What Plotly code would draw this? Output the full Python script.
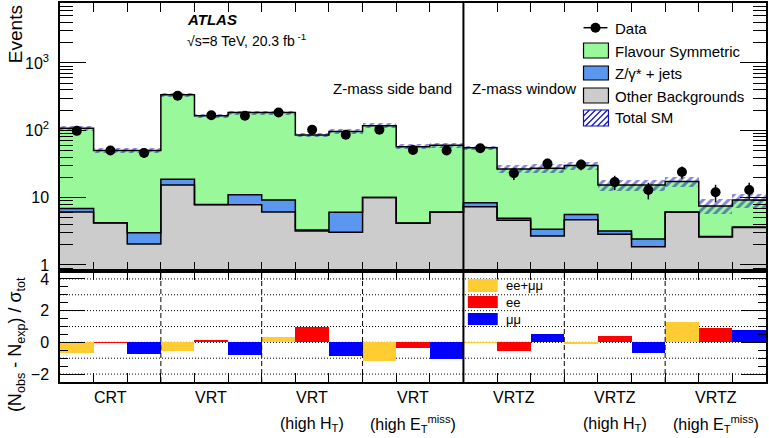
import numpy as np
import plotly.graph_objects as go

# Top panel: 21 bins (7 regions x 3 bins)
other_bkg = [6.1, 4.2, 2.05, 15.4, 7.8, 7.8, 6.1, 3.2, 3.05, 10.0, 4.15, 6.05, 7.3, 4.6,
             2.7, 4.7, 2.85, 1.87, 6.05, 2.6, 3.6]
z_jets = [0.8, 0.05, 0.95, 3.4, 0.1, 3.2, 3.1, 0.1, 3.0, 0.05, 0.05, 0.05, 1.1, 0.35,
          0.7, 0.9, 0.35, 0.55, 0.05, 0.05, 0.05]
total_sm = [107, 50, 50, 336, 164, 183, 183, 85, 96, 117, 57, 60, 55, 26.7,
            27.3, 30, 15.4, 15.4, 17.3, 7.5, 9.2]
sm_rel_unc = [0.08, 0.08, 0.08, 0.06, 0.07, 0.07, 0.07, 0.08, 0.08, 0.08, 0.08, 0.08, 0.08, 0.14,
              0.14, 0.14, 0.18, 0.18, 0.18, 0.25, 0.25]
data_obs = [98, 50, 46, 326, 167, 164, 184, 102, 86, 102, 51, 50, 54, 23,
            32, 31, 17, 13, 24, 12, 13]
data_err = [10, 7, 6.8, 18, 13, 12.8, 13.6, 10, 9.3, 10, 7.1, 7.1, 7.3, 4.8,
            5.7, 5.6, 4.1, 3.6, 4.9, 3.5, 3.6]

# Bottom panel: (Nobs - Nexp)/sigma_tot, order ee+mumu, ee, mumu per region
pulls = [-0.65, -0.03, -0.72, -0.55, 0.14, -0.78, 0.34, 1.0, -0.88, -1.2, -0.33, -1.03,
         -0.03, -0.57, 0.5, -0.05, 0.38, -0.65, 1.27, 0.92, 0.75]
channels = ["ee+\u03bc\u03bc", "ee", "\u03bc\u03bc"]
channel_colors = ["#ffcc33", "#ff0000", "#0000ff"]

regions = ["CRT", "VRT", "VRT", "VRT", "VRTZ", "VRTZ", "VRTZ"]
region_sub = ["", "", "(high H<sub>T</sub>)", "(high E<sub>T</sub><sup>miss</sup>)",
              "", "(high H<sub>T</sub>)", "(high E<sub>T</sub><sup>miss</sup>)"]

GREEN = "#99f899"
BLUE = "#5b96ef"
GREY = "#cccccc"
HATCH = "#1010b8"
FONT = "Liberation Sans, Arial, sans-serif"

nb = len(total_sm)
centers = np.arange(nb) + 0.5
edges = np.arange(nb + 1)
other = np.array(other_bkg)
zj = np.array(z_jets)
tot = np.array(total_sm)
flav = tot - other - zj
unc = tot * np.array(sm_rel_unc)

# pixel -> paper helpers (plot area 60..768 x 3..382)
W, H = 769, 438
L, R, T, B = 60, 1, 3, 56
def px(x):
    return (x - L) / (W - L - R)
def py(y):
    return (H - B - y) / (H - T - B)

split = py(271)

fig = go.Figure()

# stacked components
fig.add_trace(go.Bar(x=centers, y=other - 0.5, base=0.5, width=1, marker=dict(color=GREY, line_width=0),
                     xaxis="x", yaxis="y", showlegend=False))
fig.add_trace(go.Bar(x=centers, y=zj, base=other, width=1, marker=dict(color=BLUE, line_width=0),
                     xaxis="x", yaxis="y", showlegend=False))
fig.add_trace(go.Bar(x=centers, y=flav, base=other + zj, width=1, marker=dict(color=GREEN, line_width=0),
                     xaxis="x", yaxis="y", showlegend=False))

# step outlines
for vals in [other, other + zj, tot]:
    fig.add_trace(go.Scatter(x=edges, y=list(vals) + [vals[-1]], mode="lines", line_shape="hv",
                             line=dict(color="black", width=1.5), xaxis="x", yaxis="y", showlegend=False))

# total SM uncertainty band (hatched)
fig.add_trace(go.Bar(x=centers, y=2 * unc, base=tot - unc, width=1,
                     marker=dict(color="rgba(0,0,0,0)", line_width=0,
                                 pattern=dict(shape="/", fgcolor=HATCH, bgcolor="rgba(0,0,0,0)",
                                              size=6, solidity=0.5, fillmode="overlay")),
                     xaxis="x", yaxis="y", showlegend=False))

# data
fig.add_trace(go.Scatter(x=centers, y=data_obs, mode="markers",
                         marker=dict(color="black", size=10),
                         error_y=dict(type="data", array=data_err, color="black", thickness=1.5, width=0),
                         xaxis="x", yaxis="y", showlegend=False))

# pulls
fig.add_trace(go.Bar(x=centers, y=pulls, width=1,
                     marker=dict(color=[channel_colors[i % 3] for i in range(nb)], line_width=0),
                     xaxis="x2", yaxis="y2", showlegend=False))

shapes = []
# dotted grid lines in ratio panel
for v in range(-2, 5):
    shapes.append(dict(type="line", xref="x2", yref="y2", x0=0, x1=21, y0=v, y1=v,
                       line=dict(color="black", width=1, dash="1px,2px"), layer="below"))
# region separators
for e in [3, 6, 9, 15, 18]:
    shapes.append(dict(type="line", xref="x2", yref="y2", x0=e, x1=e, y0=-2.5, y1=4.5,
                       line=dict(color="black", width=1, dash="5px,3px")))
shapes.append(dict(type="line", xref="x", yref="paper", x0=12, x1=12, y0=0, y1=1,
                   line=dict(color="black", width=2)))

ann = []
def text(x, y, s, size=15, xanchor="left", **kw):
    ann.append(dict(x=px(x), y=py(y), xref="paper", yref="paper", text=s, showarrow=False,
                    xanchor=xanchor, yanchor="middle", font=dict(size=size, color="black", family=FONT), **kw))

# main legend
shapes.append(dict(type="line", xref="paper", yref="paper", x0=px(585), x1=px(609), y0=py(27.7), y1=py(27.7),
                   line=dict(color="black", width=1.5)))
shapes.append(dict(type="circle", xref="paper", yref="paper", x0=px(592), x1=px(602), y0=py(32.7), y1=py(22.7),
                   fillcolor="black", line=dict(color="black", width=0)))
text(615, 28, "Data")
for (y0, y1), col, lab in zip([(43, 58), (66, 80), (88, 103)], [GREEN, BLUE, GREY],
                              ["Flavour Symmetric", "Z/\u03b3* + jets", "Other Backgrounds"]):
    shapes.append(dict(type="rect", xref="paper", yref="paper", x0=px(585), x1=px(610), y0=py(y1), y1=py(y0),
                       fillcolor=col, line=dict(color="black", width=1.2)))
    text(615, (y0 + y1) / 2 + 0.5, lab)
shapes.append(dict(type="rect", xref="paper", yref="paper", x0=px(585), x1=px(610), y0=py(126), y1=py(110),
                   fillcolor="white", line=dict(color=HATCH, width=1.2)))
for k in range(6):
    xa = 585 + k * 6 - 10
    xs0, ys0, xs1, ys1 = xa, 126, xa + 16, 110
    if xs0 < 585:
        ys0 = 126 - (585 - xs0); xs0 = 585
    if xs1 > 610:
        ys1 = 110 + (xs1 - 610); xs1 = 610
    if xs0 < xs1:
        shapes.append(dict(type="line", xref="paper", yref="paper", x0=px(xs0), x1=px(xs1), y0=py(ys0), y1=py(ys1),
                           line=dict(color=HATCH, width=1.2)))
text(615, 118, "Total SM")

# ratio legend
for (y0, y1), col, lab in zip([(279, 292), (296, 308), (313, 325)], channel_colors, channels):
    shapes.append(dict(type="rect", xref="paper", yref="paper", x0=px(469), x1=px(499), y0=py(y1), y1=py(y0),
                       fillcolor=col, line=dict(width=0)))
    text(505, (y0 + y1) / 2, lab, size=13)

text(185, 19, "<b><i>ATLAS</i></b>", size=15)
text(185, 40, "\u221as=8 TeV, 20.3 fb<sup> -1</sup>", size=14)
text(455, 88, "Z-mass side band", xanchor="right")
text(471, 88, "Z-mass window")

# region labels
for i, (r, s) in enumerate(zip(regions, region_sub)):
    xc = 60 + (3 * i + 1.5) * 708 / 21
    text(xc, 397, r, size=16, xanchor="center")
    if s:
        text(xc, 424, s, size=16, xanchor="center")

# y titles
ann.append(dict(x=px(15), y=py(3), xref="paper", yref="paper", text="Events", showarrow=False,
                textangle=-90, xanchor="center", yanchor="top", font=dict(size=19, color="black", family=FONT)))
ann.append(dict(x=px(16), y=py(345), xref="paper", yref="paper",
                text="(N<sub>obs</sub> - N<sub>exp</sub>) / \u03c3<sub>tot</sub>", showarrow=False,
                textangle=-90, xanchor="center", yanchor="middle", font=dict(size=18, color="black", family=FONT)))

axis_common = dict(showline=True, linecolor="black", linewidth=1.5, mirror="allticks",
                   ticks="inside", tickcolor="black", tickwidth=1, showgrid=False, zeroline=False)

fig.update_layout(
    width=W, height=H, margin=dict(l=L, r=R, t=T, b=B),
    paper_bgcolor="white", plot_bgcolor="white",
    barmode="overlay", bargap=0,
    font=dict(family=FONT, size=16, color="black"),
    shapes=shapes, annotations=ann, showlegend=False,
    xaxis=dict(domain=[0, 1], anchor="y", range=[0, 21], tickvals=list(edges), ticklen=9,
               showticklabels=False, **axis_common),
    yaxis=dict(domain=[split, 1], anchor="x", type="log", range=[-0.09, 3.89],
               tickvals=[1, 10, 100, 1000], ticktext=["1", "10", "10<sup>2</sup>", "10<sup>3</sup>"],
               ticklen=26, ticklabelstandoff=6,
               minor=dict(ticks="inside", ticklen=13, dtick="D1", tickcolor="black", showgrid=False),
               **axis_common),
    xaxis2=dict(domain=[0, 1], anchor="y2", range=[0, 21], tickvals=list(edges), ticklen=9,
                showticklabels=False, **axis_common),
    yaxis2=dict(domain=[0, split], anchor="x2", range=[-2.5, 4.5], tickvals=[-2, 0, 2, 4],
                ticklen=25, ticklabelstandoff=6,
                minor=dict(ticks="inside", ticklen=8, dtick=0.5, tickcolor="black", showgrid=False),
                **axis_common),
)

# the page body has a default 8px margin; remove it so the figure fills the window
fig.write_html("out.html", config={"displayModeBar": False},
               post_script="document.body.style.margin='0px';")
